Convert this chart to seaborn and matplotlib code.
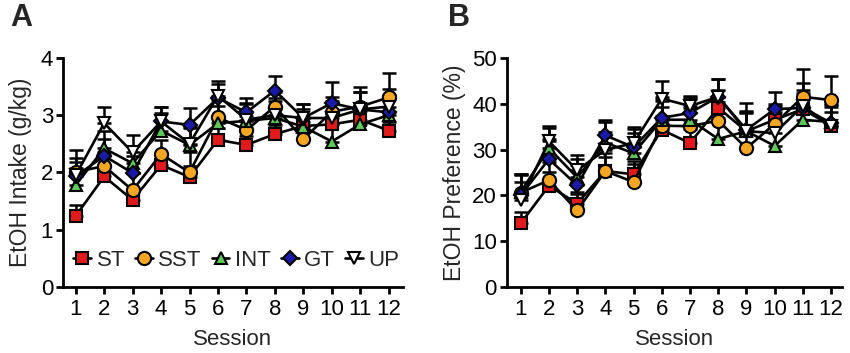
import matplotlib
matplotlib.use("Agg")
import matplotlib.pyplot as plt
from matplotlib.lines import Line2D
import seaborn as sns
import numpy as np

sns.set_style("ticks")
plt.rcParams['font.family'] = ['Liberation Sans', 'DejaVu Sans']

sessions = list(range(1, 13))
groups = ["ST", "SST", "INT", "GT", "UP"]
face_colors = {"ST": "#e31a1c", "SST": "#f5a623", "INT": "#5ec95a", "GT": "#1a1aa8", "UP": "white"}
markers = {"ST": "s", "SST": "o", "INT": "^", "GT": "D", "UP": "v"}
marker_sizes = {"ST": 9, "SST": 9.5, "INT": 9, "GT": 7.5, "UP": 9}

# EtOH intake (g/kg), mean and upper SEM
intake = {
    "ST":  [1.24, 1.93, 1.52, 2.13, 1.92, 2.57, 2.48, 2.67, 2.81, 2.84, 2.92, 2.73],
    "SST": [2.01, 2.11, 1.69, 2.32, 2.00, 2.96, 2.74, 3.15, 2.58, 3.06, 3.15, 3.31],
    "INT": [1.78, 2.42, 2.16, 2.73, 2.48, 2.86, 2.90, 2.95, 2.80, 2.54, 2.84, 3.00],
    "GT":  [1.93, 2.29, 1.99, 2.89, 2.83, 3.30, 3.05, 3.43, 2.95, 3.21, 3.10, 3.05],
    "UP":  [1.95, 2.86, 2.35, 2.89, 2.50, 3.34, 2.92, 3.00, 2.95, 2.95, 3.10, 3.15],
}
intake_err = {
    "ST":  [0.20, 0.20, 0.18, 0.20, 0.20, 0.20, 0.15, 0.15, 0.15, 0.20, 0.15, 0.15],
    "SST": [0.38, 0.25, 0.30, 0.25, 0.35, 0.30, 0.25, 0.25, 0.30, 0.25, 0.25, 0.42],
    "INT": [0.30, 0.30, 0.30, 0.30, 0.30, 0.30, 0.30, 0.30, 0.30, 0.30, 0.30, 0.30],
    "GT":  [0.25, 0.30, 0.30, 0.26, 0.30, 0.25, 0.25, 0.26, 0.25, 0.37, 0.30, 0.30],
    "UP":  [0.30, 0.29, 0.30, 0.25, 0.30, 0.26, 0.30, 0.30, 0.25, 0.30, 0.40, 0.30],
}

# EtOH preference (%), mean and upper SEM
pref = {
    "ST":  [13.9, 22.1, 18.2, 25.3, 24.6, 34.3, 31.4, 39.1, 34.0, 36.5, 38.8, 35.2],
    "SST": [20.6, 23.3, 16.7, 25.3, 22.9, 35.2, 35.1, 36.3, 30.3, 35.6, 41.5, 40.8],
    "INT": [20.7, 30.3, 23.9, 31.5, 29.2, 36.5, 36.5, 32.3, 34.0, 30.8, 36.5, 36.0],
    "GT":  [20.0, 27.9, 22.2, 33.1, 30.5, 36.9, 38.0, 41.5, 34.3, 38.8, 39.1, 35.8],
    "UP":  [18.9, 31.8, 25.5, 29.9, 31.4, 41.1, 39.5, 41.5, 34.0, 33.6, 39.5, 35.2],
}
pref_err = {
    "ST":  [2.5, 3.0, 2.5, 3.0, 3.0, 3.0, 3.0, 4.0, 4.0, 3.5, 3.5, 3.0],
    "SST": [4.0, 4.0, 3.5, 4.0, 4.0, 4.0, 4.0, 4.0, 4.0, 4.0, 6.0, 5.3],
    "INT": [4.0, 4.5, 4.0, 4.5, 4.5, 4.0, 4.5, 4.5, 4.5, 4.5, 4.5, 4.0],
    "GT":  [4.5, 4.5, 4.5, 3.4, 4.0, 4.5, 3.5, 3.9, 4.0, 3.8, 4.0, 4.0],
    "UP":  [4.0, 3.4, 3.3, 4.0, 3.5, 3.9, 2.2, 3.9, 6.2, 4.5, 5.0, 4.0],
}

fig = plt.figure(figsize=(8.5, 3.53), dpi=100)
axA = fig.add_axes([0.074, 0.187, 0.40, 0.649])
axB = fig.add_axes([0.596, 0.187, 0.395, 0.649])


def draw(ax, means, errs):
    for g in groups:
        ax.errorbar(sessions, means[g], yerr=[np.zeros(12), errs[g]], fmt='none',
                    ecolor='black', elinewidth=1.8, capsize=5, capthick=1.8, zorder=2)
    for g in groups:
        sns.lineplot(x=sessions, y=means[g], ax=ax, color='black', linewidth=1.9,
                     marker=markers[g], markersize=marker_sizes[g],
                     markerfacecolor=face_colors[g], markeredgecolor='black',
                     markeredgewidth=1.5, zorder=3)
    ax.set_xticks(sessions)
    ax.set_xlim(0.55, 12.5)
    for s in ["top", "right"]:
        ax.spines[s].set_visible(False)
    for s in ["left", "bottom"]:
        ax.spines[s].set_linewidth(2)
        ax.spines[s].set_color('black')
    ax.tick_params(direction='out', width=2, length=5, labelsize=16, colors='black', pad=2)
    ax.tick_params(axis='x', pad=4)
    ax.set_xlabel("Session", fontsize=16, labelpad=6)


draw(axA, intake, intake_err)
axA.set_ylim(0, 4)
axA.set_yticks([0, 1, 2, 3, 4])
axA.set_ylabel("EtOH Intake (g/kg)", fontsize=16.5, labelpad=6)

draw(axB, pref, pref_err)
axB.set_ylim(0, 50)
axB.set_yticks([0, 10, 20, 30, 40, 50])
axB.set_xlim(0.5, 12.4)
axB.set_ylabel("EtOH Preference (%)", fontsize=16.5, labelpad=4)

handles = [Line2D([0], [0], color='black', linewidth=1.9, marker=markers[g],
                  markersize=marker_sizes[g], markerfacecolor=face_colors[g],
                  markeredgecolor='black', markeredgewidth=1.5) for g in groups]
axA.legend(handles, groups, loc='lower center', bbox_to_anchor=(0.51, 0.03), ncol=5,
           frameon=False, fontsize=16, handlelength=0.8, handletextpad=0.25,
           columnspacing=0.45, borderaxespad=0)

fig.text(0.012, 0.95, "A", fontsize=22, fontweight='bold', va='center')
fig.text(0.527, 0.95, "B", fontsize=22, fontweight='bold', va='center')

fig.savefig("out.png", dpi=100)
